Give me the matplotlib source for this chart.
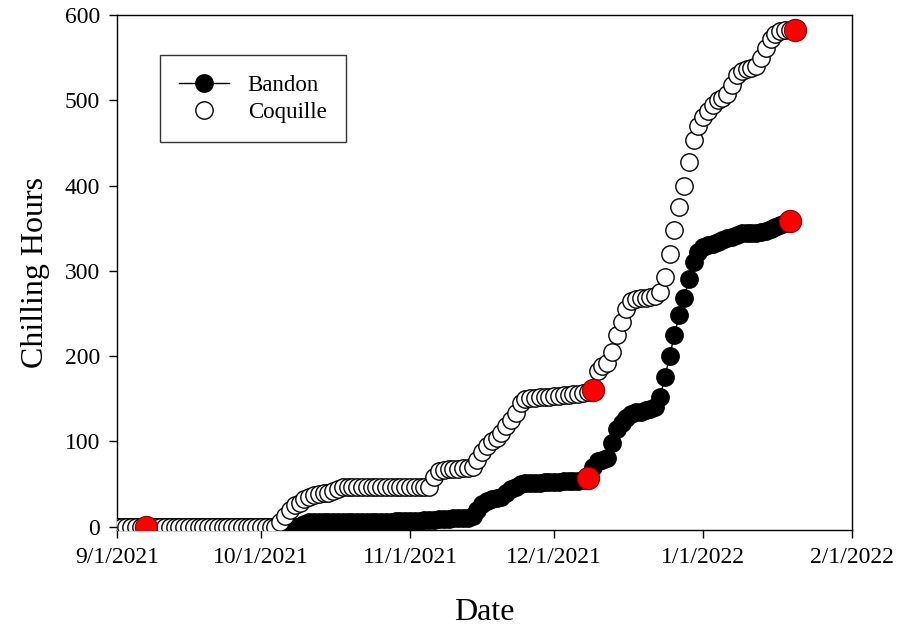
import pandas as pd
import matplotlib
matplotlib.use("Agg")
import matplotlib.pyplot as plt
from matplotlib.lines import Line2D

# daily cumulative chilling hours, starting 9/1/2021
coquille = ([0] * 34
            + [5, 12, 20, 25, 28, 32, 35, 37, 38, 40, 40, 42, 44, 46]
            + [46] * 10 + [47] * 8
            + [58, 65, 67, 68, 68, 68, 69, 69, 70]
            + [78, 88, 94, 100, 104, 110, 118, 125, 133, 145, 150]
            + [151, 151, 152, 152, 152, 153, 153, 154, 154, 155, 156, 157]
            + [158, 160]
            + [183, 188, 192, 205, 225, 240, 255, 265]
            + [267, 268, 268, 269, 270]
            + [275, 293, 320, 348, 375, 400, 428, 454]
            + [470, 480, 488, 495, 500, 503, 508]
            + [518, 530, 535, 537, 538, 540, 550, 562, 572, 578, 581, 582, 582, 583])

bandon = ([0] * 38
          + [1, 3, 5]
          + [5, 5, 5, 5, 5, 5, 6, 6, 6, 6, 6, 6, 6, 6, 6, 6, 6, 7, 7, 7, 7, 7, 7, 8, 8]
          + [8, 9, 9, 9, 10, 10, 10, 10, 12]
          + [20, 26, 30, 32, 33, 35, 40, 44, 47, 50]
          + [51, 51, 51, 51, 52, 52, 52, 52, 53, 53, 53, 54, 55]
          + [57]
          + [70, 77, 78, 80, 98, 115, 122, 128, 132, 134, 135, 137, 138, 140]
          + [152, 175, 200, 225, 248, 268, 290, 310, 322, 328]
          + [330, 332, 334, 336, 338, 340, 342, 344, 345, 345, 345, 346, 347,
             349, 352, 354, 356, 358])

# highlighted points
red_dates = ["2021-09-07", "2021-12-08", "2021-12-09", "2022-01-19", "2022-01-20"]
red_values = [0, 57, 160, 358, 583]

tick_dates = ["2021-09-01", "2021-10-01", "2021-11-01", "2021-12-01", "2022-01-01", "2022-02-01"]
tick_labels = ["9/1/2021", "10/1/2021", "11/1/2021", "12/1/2021", "1/1/2022", "2/1/2022"]

plt.rcParams["font.family"] = ["Liberation Serif", "DejaVu Serif"]

fig = plt.figure(figsize=(8.99, 6.31), dpi=100)
ax = fig.add_axes([0.130, 0.160, 0.818, 0.816])

dates_c = pd.date_range("2021-09-01", periods=len(coquille), freq="D")
dates_b = pd.date_range("2021-09-01", periods=len(bandon), freq="D")

ax.plot(dates_b, bandon, color="black", lw=1, marker="o", ms=12.5,
        mfc="black", mec="black", mew=1, zorder=2)
ax.plot(dates_c, coquille, ls="none", marker="o", ms=12.5,
        mfc="white", mec="black", mew=1, zorder=3)
ax.plot(pd.to_datetime(red_dates), red_values, ls="none", marker="o", ms=16,
        mfc="red", mec="#8a0000", mew=0.8, zorder=4)

ax.set_xlim(pd.Timestamp("2021-09-01"), pd.Timestamp("2022-02-01"))
ax.set_ylim(-4, 600)
ax.set_xticks(pd.to_datetime(tick_dates))
ax.set_xticklabels(tick_labels)
ax.set_yticks(range(0, 601, 100))

ax.tick_params(direction="out", length=6, width=1, labelsize=17, pad=6)
for s in ax.spines.values():
    s.set_linewidth(1)

ax.set_xlabel("Date", fontsize=23, labelpad=22)
ax.set_ylabel("Chilling Hours", fontsize=23, labelpad=11)

handles = [
    Line2D([], [], color="black", lw=1, marker="o", ms=12.5, mfc="black", mec="black"),
    Line2D([], [], ls="none", marker="o", ms=12.5, mfc="white", mec="black"),
]
leg = ax.legend(handles, ["Bandon", "Coquille"], loc="upper left",
                bbox_to_anchor=(0.058, 0.922), borderaxespad=0, fontsize=16.5,
                frameon=True, fancybox=False, edgecolor="black",
                handlelength=2.2, borderpad=0.85, labelspacing=0.25)
leg.get_frame().set_linewidth(1)

fig.savefig("out.png", dpi=100)
